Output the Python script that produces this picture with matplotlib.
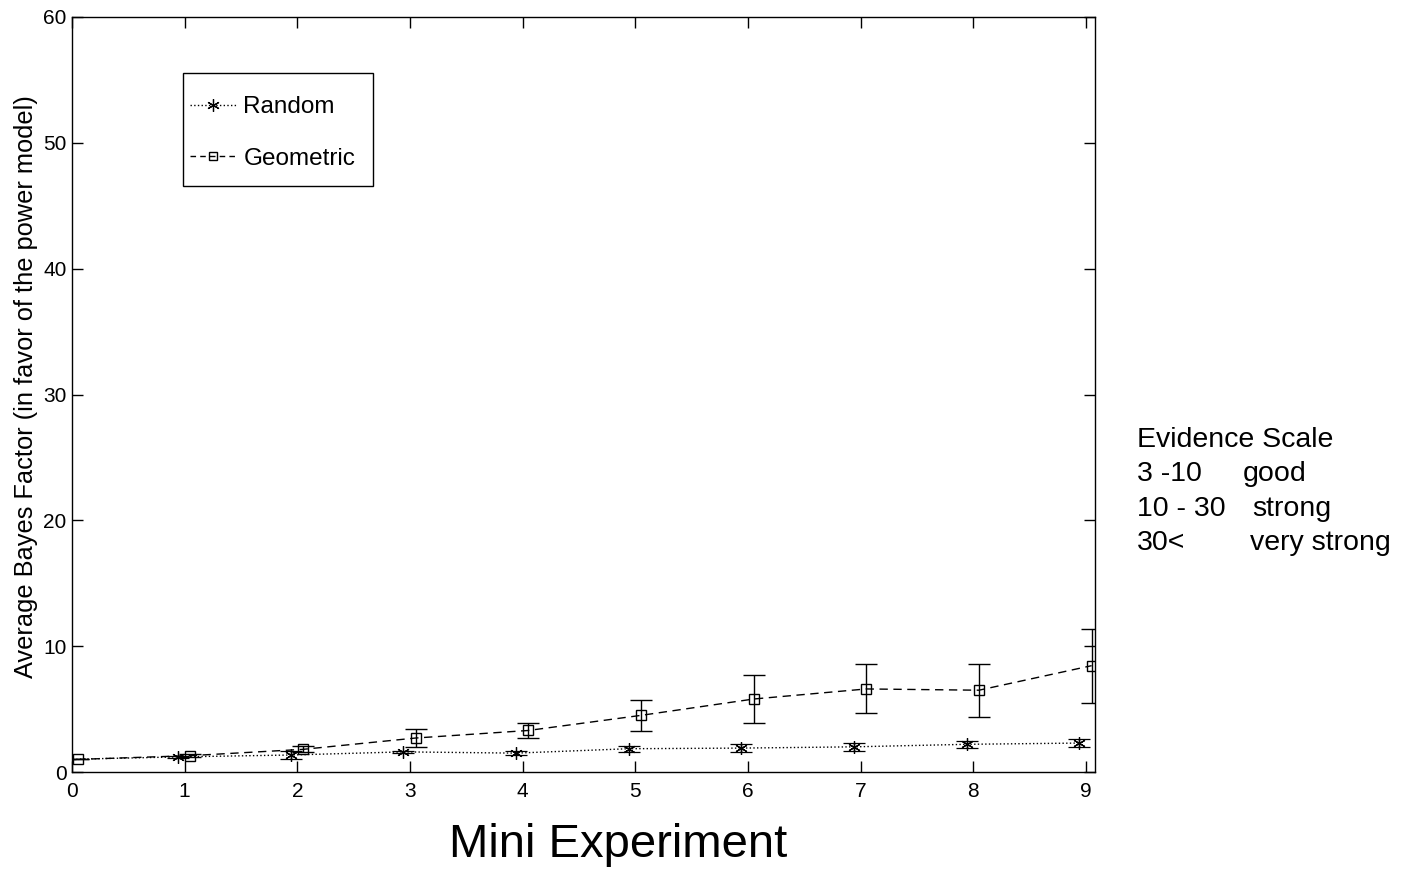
import matplotlib
matplotlib.use("Agg")
import matplotlib.pyplot as plt
from matplotlib.lines import Line2D
from matplotlib.patches import Rectangle
import numpy as np

plt.rcParams['font.family'] = ['Liberation Sans', 'DejaVu Sans']

# Mini experiment index
experiments = [0, 1, 2, 3, 4, 5, 6, 7, 8, 9]

# Average Bayes factor in favor of the power model, with error bar half-widths
random_bf = [1.0, 1.2, 1.35, 1.6, 1.5, 1.85, 1.9, 2.0, 2.2, 2.3]
random_err = [0.0, 0.1, 0.3, 0.1, 0.15, 0.25, 0.35, 0.3, 0.3, 0.35]
geometric_bf = [1.0, 1.3, 1.8, 2.7, 3.3, 4.5, 5.8, 6.6, 6.5, 8.45]
geometric_err = [0.0, 0.1, 0.25, 0.7, 0.6, 1.25, 1.9, 1.95, 2.1, 2.95]

scale_title = "Evidence Scale"
scale_ranges = ["3 -10", "10 - 30", "30<"]
scale_words = ["good", "strong", "very strong"]

W, H = 1401, 869
fig = plt.figure(figsize=(W / 100, H / 100), dpi=100)
ax = fig.add_axes([72 / W, (H - 772) / H, (1095 - 72) / W, (772 - 17) / H])


def fx(px):
    return px / W


def fy(py):
    return 1 - py / H


asterisk = (6, 2, 0)
dash = (0, (6, 4))

x = np.array(experiments, dtype=float)
ax.errorbar(x - 0.06, random_bf, yerr=random_err, color='black', linestyle=':',
            linewidth=1.0, marker=asterisk, markersize=9, markeredgewidth=0.9,
            elinewidth=1.0, capsize=8, capthick=1.0)
ax.errorbar(x + 0.05, geometric_bf, yerr=geometric_err, color='black', linestyle=dash,
            linewidth=1.0, marker='s', markersize=7, markerfacecolor='none',
            markeredgewidth=1.0, elinewidth=1.0, capsize=8, capthick=1.0)

ax.set_xlim(0, 9.08)
ax.set_ylim(0, 60)
ax.set_xticks(experiments)
ax.set_yticks(np.arange(0, 61, 10))
ax.tick_params(direction='in', length=8, width=1, labelsize=15, top=True, right=True)
ax.tick_params(axis='x', pad=7)
ax.tick_params(axis='y', pad=4)
for s in ax.spines.values():
    s.set_linewidth(1.0)

fig.text(fx(618), fy(857), 'Mini Experiment', fontsize=34, ha='center', va='baseline')
fig.text(fx(26), fy(387), 'Average Bayes Factor (in favor of the power model)',
         fontsize=18.3, rotation=90, ha='center', va='center')

# Legend: framed box drawn separately, entries placed inside it
fig.patches.append(Rectangle((fx(183), fy(186)), fx(373) - fx(183), fy(73) - fy(186),
                             transform=fig.transFigure, fill=True, facecolor='white',
                             edgecolor='black', linewidth=1.0, zorder=3))
handles = [
    Line2D([], [], color='black', linestyle=':', linewidth=1.0, marker=asterisk,
           markersize=9, markeredgewidth=0.9),
    Line2D([], [], color='black', linestyle=(0, (4, 3)), linewidth=1.0, marker='s',
           markersize=6, markerfacecolor='none', markeredgewidth=1.0),
]
leg = fig.legend(handles, ['Random', 'Geometric'], loc='upper left',
                 bbox_to_anchor=(fx(190), fy(96)),
                 fontsize=17.5, frameon=False, handlelength=1.9, handletextpad=0.3,
                 borderpad=0.0, labelspacing=1.22, borderaxespad=0.0)
leg.set_zorder(4)

fig.text(fx(1137), fy(440), scale_title, fontsize=20.5, va='center', ha='left')
word_x = [1243, 1252, 1250]
for i, (rng, word) in enumerate(zip(scale_ranges, scale_words)):
    yy = fy(474 + 34.5 * i)
    fig.text(fx(1137), yy, rng, fontsize=20.5, va='center', ha='left')
    fig.text(fx(word_x[i]), yy, word, fontsize=20.5, va='center', ha='left')

fig.savefig('out.png', dpi=100)
